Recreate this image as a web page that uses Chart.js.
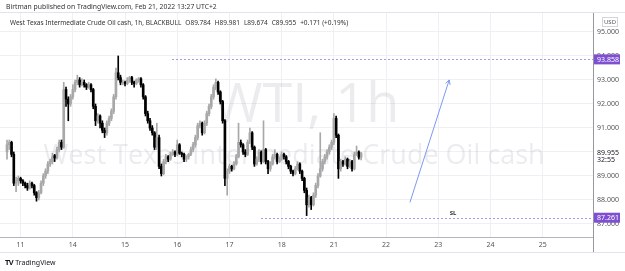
<!DOCTYPE html>
<html>
<head>
<meta charset="utf-8">
<script src="https://cdn.jsdelivr.net/npm/chart.js@4.4.1/dist/chart.umd.min.js"></script>
<style>
html,body{margin:0;padding:0;background:#fff;}
body{width:625px;height:271px;position:relative;overflow:hidden;font-family:"Noto Sans",Arial,sans-serif;}
#chart{position:absolute;left:0;top:0;}
.txt{position:absolute;white-space:nowrap;color:#131722;}
#pub{left:6px;top:2px;font-size:6.8px;color:#333;}
#legend{left:10px;top:18px;font-size:6.5px;color:#333;}
#legend span{margin-left:4px;}
#footer{left:5px;top:257px;font-size:7px;color:#131722;}
#footer b{font-size:7.5px;letter-spacing:-0.5px;margin-right:2px;}
</style>
</head>
<body>
<canvas id="chart" width="625" height="271"></canvas>
<div id="pub" class="txt">Birtman published on TradingView.com, Feb 21, 2022 13:27 UTC+2</div>
<div id="legend" class="txt">West Texas Intermediate Crude Oil cash, 1h, BLACKBULL<span>O89.784</span><span>H89.981</span><span>L89.674</span><span>C89.955</span><span>+0.171 (+0.19%)</span></div>
<div id="footer" class="txt"><b>TV</b>TradingView</div>
<script>
// hourly candles, index 0 = first bar on screen
var opens = [90.0,90.3,90.4,89.9,88.7,88.8,88.9,88.8,88.7,88.6,
 88.5,88.7,88.6,88.3,88.1,88.3,88.7,89.0,89.2,89.5,
 89.6,89.85,89.75,90.1,90.4,90.2,92.6,92.2,92.0,92.3,
 92.6,92.9,93.0,92.8,92.9,92.8,92.7,92.8,92.6,91.9,
 91.3,91.5,91.2,90.9,90.8,91.2,91.4,91.7,92.3,93.3,
 93.1,92.9,92.9,92.85,93.0,93.1,92.9,92.85,93.0,93.05,
 92.8,92.3,91.6,91.3,91.0,90.8,90.2,90.6,89.4,89.1,
 89.6,89.8,89.7,89.9,90.0,89.9,90.3,89.95,89.9,89.7,
 89.8,89.9,90.1,90.3,90.6,91.1,91.2,90.8,91.2,91.6,
 91.9,92.3,92.7,92.9,92.5,92.1,91.3,88.9,89.2,89.4,
 89.3,89.5,89.8,90.4,90.3,90.0,89.9,90.4,90.8,90.2,
 89.5,89.7,90.0,89.6,90.1,89.6,89.3,89.5,89.8,89.9,
 89.6,89.7,89.9,89.8,89.6,89.4,89.2,89.1,89.3,89.5,
 89.2,88.9,88.4,87.8,88.1,87.8,88.2,88.6,89.0,89.3,
 89.6,89.8,90.0,90.2,90.4,91.4,90.7,89.3,89.6,89.5,
 89.7,89.4,89.6,89.3,89.9,90.0,89.784];
var highs = [90.5,90.5,90.45,90.0,88.95,89.0,88.95,88.85,88.75,88.7,
 88.8,88.75,88.65,88.35,88.4,88.8,89.1,89.3,89.6,89.7,
 89.95,89.9,90.2,90.5,90.5,92.9,92.7,92.3,92.4,92.8,
 93.0,93.2,93.1,93.05,93.0,92.85,92.9,92.85,92.65,92.0,
 91.6,91.55,91.3,91.0,91.3,91.5,91.8,92.4,93.5,94.0,
 93.2,93.0,92.95,93.1,93.15,93.15,92.95,93.05,93.1,93.1,
 92.85,92.35,91.7,91.4,91.1,90.85,91.2,90.7,89.5,89.7,
 89.9,89.85,90.0,90.1,90.05,90.5,90.35,90.0,89.95,89.85,
 89.95,90.2,90.4,90.7,91.2,91.3,91.25,91.3,91.7,92.0,
 92.4,92.8,93.05,92.95,92.55,92.15,91.35,89.3,89.5,89.45,
 89.6,89.9,91.2,90.5,90.35,90.1,90.5,91.0,90.85,90.25,
 89.8,90.1,90.05,91.3,90.15,89.65,89.6,89.9,90.1,89.95,
 89.8,90.0,89.95,89.85,89.65,89.45,89.25,89.4,89.6,89.55,
 89.25,88.95,88.5,88.2,88.15,88.3,88.7,89.1,90.8,89.7,
 89.9,90.1,90.3,90.5,91.6,91.5,90.75,89.7,89.65,89.8,
 89.75,89.7,89.65,90.0,90.25,90.05,89.981];
var lows = [89.7,90.1,89.8,88.6,88.35,88.6,88.7,88.6,88.5,88.4,
 88.45,88.5,88.2,87.95,88.0,88.25,88.6,88.9,89.1,89.4,
 89.5,89.6,89.7,90.0,90.1,90.15,91.9,91.3,91.9,92.2,
 92.5,92.8,92.7,92.75,92.7,92.6,92.65,92.5,91.8,91.1,
 91.2,91.0,90.8,90.6,90.7,91.1,91.3,91.6,92.2,93.0,
 92.8,92.8,92.75,92.8,92.9,92.8,92.7,92.8,92.9,92.7,
 92.2,91.5,91.2,90.9,90.7,90.1,90.1,89.3,89.0,89.05,
 89.5,89.6,89.65,89.85,89.8,89.85,89.9,89.8,89.6,89.6,
 89.7,89.85,90.0,90.2,90.5,91.0,90.7,90.75,91.1,91.5,
 91.8,92.2,92.6,92.4,92.0,91.2,88.6,88.2,89.1,89.2,
 89.25,89.45,89.75,90.2,89.9,89.8,89.85,90.35,90.1,89.4,
 89.45,89.6,89.5,89.55,89.5,89.1,89.2,89.45,89.7,89.5,
 89.55,89.65,89.7,89.5,89.3,89.1,89.0,89.05,89.25,89.1,
 88.8,88.3,87.35,87.7,87.6,87.75,88.1,88.5,88.95,89.2,
 89.5,89.7,89.9,90.1,90.3,90.6,88.9,89.2,89.4,89.45,
 89.3,89.35,89.2,89.25,89.85,89.7,89.674];
var closes = [90.3,90.4,89.9,88.7,88.8,88.9,88.8,88.7,88.6,88.5,
 88.7,88.6,88.3,88.1,88.3,88.7,89.0,89.2,89.5,89.6,
 89.8,89.75,90.1,90.4,90.2,92.6,92.2,92.0,92.3,92.6,
 92.9,93.0,92.8,92.9,92.8,92.7,92.8,92.6,91.9,91.3,
 91.5,91.2,90.9,90.8,91.2,91.4,91.7,92.3,93.3,93.1,
 92.9,92.9,92.85,93.0,93.1,92.9,92.85,93.0,93.05,92.8,
 92.3,91.6,91.3,91.0,90.8,90.2,90.6,89.4,89.1,89.6,
 89.8,89.7,89.9,90.0,89.9,90.3,89.95,89.9,89.7,89.8,
 89.9,90.1,90.3,90.6,91.1,91.2,90.8,91.2,91.6,91.9,
 92.3,92.7,92.9,92.5,92.1,91.3,88.9,89.2,89.4,89.3,
 89.5,89.8,90.4,90.3,90.0,89.9,90.4,90.8,90.2,89.5,
 89.7,90.0,89.6,90.1,89.6,89.3,89.5,89.8,89.9,89.6,
 89.7,89.9,89.8,89.6,89.4,89.2,89.1,89.3,89.5,89.2,
 88.9,88.4,87.8,88.1,87.8,88.2,88.6,89.0,89.3,89.6,
 89.8,90.0,90.2,90.4,91.4,90.7,89.3,89.6,89.5,89.7,
 89.4,89.6,89.3,89.9,90.0,89.784,89.955];

// time axis: first bar of each day
var dayStart = [6,29,52,75,98,121,144,167,190,213,236];
var dayLabels = ["11","14","15","16","17","18","21","22","23","24","25"];
var priceTicks = [87,88,89,90,91,92,93,94,95];
var lastPrice = 89.955;
var lastCountdown = "32:55";

// drawings
var levelPrices = [93.858, 87.261];
var levelFrom = [72.7, 111.9];
var arrowFrom = [177.5, 87.9];
var arrowTo = [194.8, 93.0];
var slAt = [196.5, 87.45];

var upCol = "#a8a8a8", downCol = "#000000";
var candleCol = closes.map(function(c, i){ return c >= opens[i] ? upCol : downCol; });

var wicks = closes.map(function(c, i){ return {x: i, y: [lows[i], highs[i]]}; });
var bodies = closes.map(function(c, i){ return {x: i, y: [opens[i], c]}; });

function labelBox(ctx, txt, y, bg, fg){
  ctx.fillStyle = bg;
  ctx.fillRect(594, y - 5, 26, 10);
  ctx.fillStyle = fg;
  ctx.font = "7px 'Noto Sans'";
  ctx.textAlign = "left";
  ctx.textBaseline = "middle";
  ctx.fillText(txt, 597, y + 0.5);
}

var overlay = {
  id: "overlay",
  beforeDatasetsDraw: function(chart){
    var ctx = chart.ctx;
    ctx.save();
    ctx.fillStyle = "rgba(120,123,134,0.14)";
    ctx.textAlign = "center";
    ctx.textBaseline = "alphabetic";
    ctx.font = "54px 'Open Sans'";
    ctx.fillText("WTI, 1h", 306, 122);
    ctx.font = "27px 'Open Sans'";
    ctx.fillText("West Texas Intermediate Crude Oil cash", 294, 164);
    ctx.restore();
  },
  afterDraw: function(chart){
    var ctx = chart.ctx, x = chart.scales.x, y = chart.scales.y, a = chart.chartArea;
    ctx.save();
    // frame lines
    ctx.strokeStyle = "#e0e3eb";
    ctx.lineWidth = 1;
    ctx.beginPath();
    ctx.moveTo(0, 12.5); ctx.lineTo(625, 12.5);
    ctx.moveTo(0, 252.5); ctx.lineTo(625, 252.5);
    ctx.stroke();
    ctx.strokeStyle = "#9598a1";
    ctx.beginPath();
    ctx.moveTo(a.right + 0.5, 237); ctx.lineTo(a.right + 0.5, 252);
    ctx.stroke();

    // horizontal levels
    ctx.strokeStyle = "#ab96e8";
    ctx.setLineDash([2, 2]);
    levelPrices.forEach(function(p, k){
      var py = Math.round(y.getPixelForValue(p)) + 0.5;
      ctx.beginPath();
      ctx.moveTo(x.getPixelForValue(levelFrom[k]), py);
      ctx.lineTo(a.right, py);
      ctx.stroke();
    });
    ctx.setLineDash([]);

    // arrow
    var x1 = x.getPixelForValue(arrowFrom[0]), y1 = y.getPixelForValue(arrowFrom[1]);
    var x2 = x.getPixelForValue(arrowTo[0]), y2 = y.getPixelForValue(arrowTo[1]);
    var ang = Math.atan2(y2 - y1, x2 - x1);
    ctx.strokeStyle = "#7c98f2";
    ctx.lineWidth = 1;
    ctx.beginPath();
    ctx.moveTo(x1, y1); ctx.lineTo(x2, y2);
    ctx.moveTo(x2 - 5 * Math.cos(ang - 0.5), y2 - 5 * Math.sin(ang - 0.5));
    ctx.lineTo(x2, y2);
    ctx.lineTo(x2 - 5 * Math.cos(ang + 0.5), y2 - 5 * Math.sin(ang + 0.5));
    ctx.stroke();

    // SL text
    ctx.fillStyle = "#333";
    ctx.font = "bold 6px 'Noto Sans'";
    ctx.textAlign = "center";
    ctx.textBaseline = "middle";
    ctx.fillText("SL", x.getPixelForValue(slAt[0]), y.getPixelForValue(slAt[1]));

    // axis labels
    levelPrices.forEach(function(p){
      labelBox(ctx, p.toFixed(3), y.getPixelForValue(p), "#7e4fd3", "#fff");
    });
    var ly = y.getPixelForValue(lastPrice);
    ctx.fillStyle = "#fff";
    ctx.fillRect(594, ly - 5, 28, 17);
    ctx.fillStyle = "#131722";
    ctx.font = "7px 'Noto Sans'";
    ctx.textAlign = "left";
    ctx.textBaseline = "middle";
    ctx.fillText(lastPrice.toFixed(3), 597, ly);
    ctx.fillText(lastCountdown, 597, ly + 7);

    // USD box
    ctx.strokeStyle = "#d1d4dc";
    ctx.strokeRect(602.5, 17.5, 15, 9);
    ctx.fillStyle = "#555";
    ctx.font = "6px 'Noto Sans'";
    ctx.textAlign = "center";
    ctx.fillText("USD", 610, 22.5);
    ctx.restore();
  }
};

new Chart(document.getElementById("chart"), {
  type: "bar",
  data: {
    datasets: [{
      data: wicks,
      backgroundColor: candleCol,
      barThickness: 1,
      grouped: false,
      borderWidth: 0
    }, {
      data: bodies,
      backgroundColor: candleCol,
      barThickness: 2,
      grouped: false,
      borderWidth: 0
    }]
  },
  options: {
    responsive: false,
    devicePixelRatio: 1,
    animation: false,
    layout: { padding: { top: 13, left: 0, right: 0, bottom: 19 } },
    plugins: { legend: { display: false }, tooltip: { enabled: false } },
    scales: {
      x: {
        type: "linear",
        offset: false,
        min: -3.08,
        max: 258.15,
        afterFit: function(s){ s.height = 15; },
        afterBuildTicks: function(s){ s.ticks = dayStart.map(function(v){ return {value: v}; }); },
        ticks: {
          callback: function(v){ return dayLabels[dayStart.indexOf(v)]; },
          autoSkip: false, maxRotation: 0, padding: 4,
          font: { size: 7, family: "'Noto Sans'" }, color: "#555"
        },
        grid: { color: "#eef0f4", drawTicks: false, offset: false },
        border: { color: "#b2b5be" }
      },
      y: {
        position: "right",
        min: 86.458,
        max: 95.79,
        afterFit: function(s){ s.width = 32; },
        afterBuildTicks: function(s){ s.ticks = priceTicks.map(function(v){ return {value: v}; }); },
        ticks: {
          callback: function(v){ return v === 90 ? "" : v.toFixed(3); },
          padding: 4,
          font: { size: 7, family: "'Noto Sans'" }, color: "#555"
        },
        grid: { color: "#eef0f4", drawTicks: false },
        border: { color: "#9598a1" }
      }
    }
  },
  plugins: [overlay]
});
</script>
</body>
</html>
